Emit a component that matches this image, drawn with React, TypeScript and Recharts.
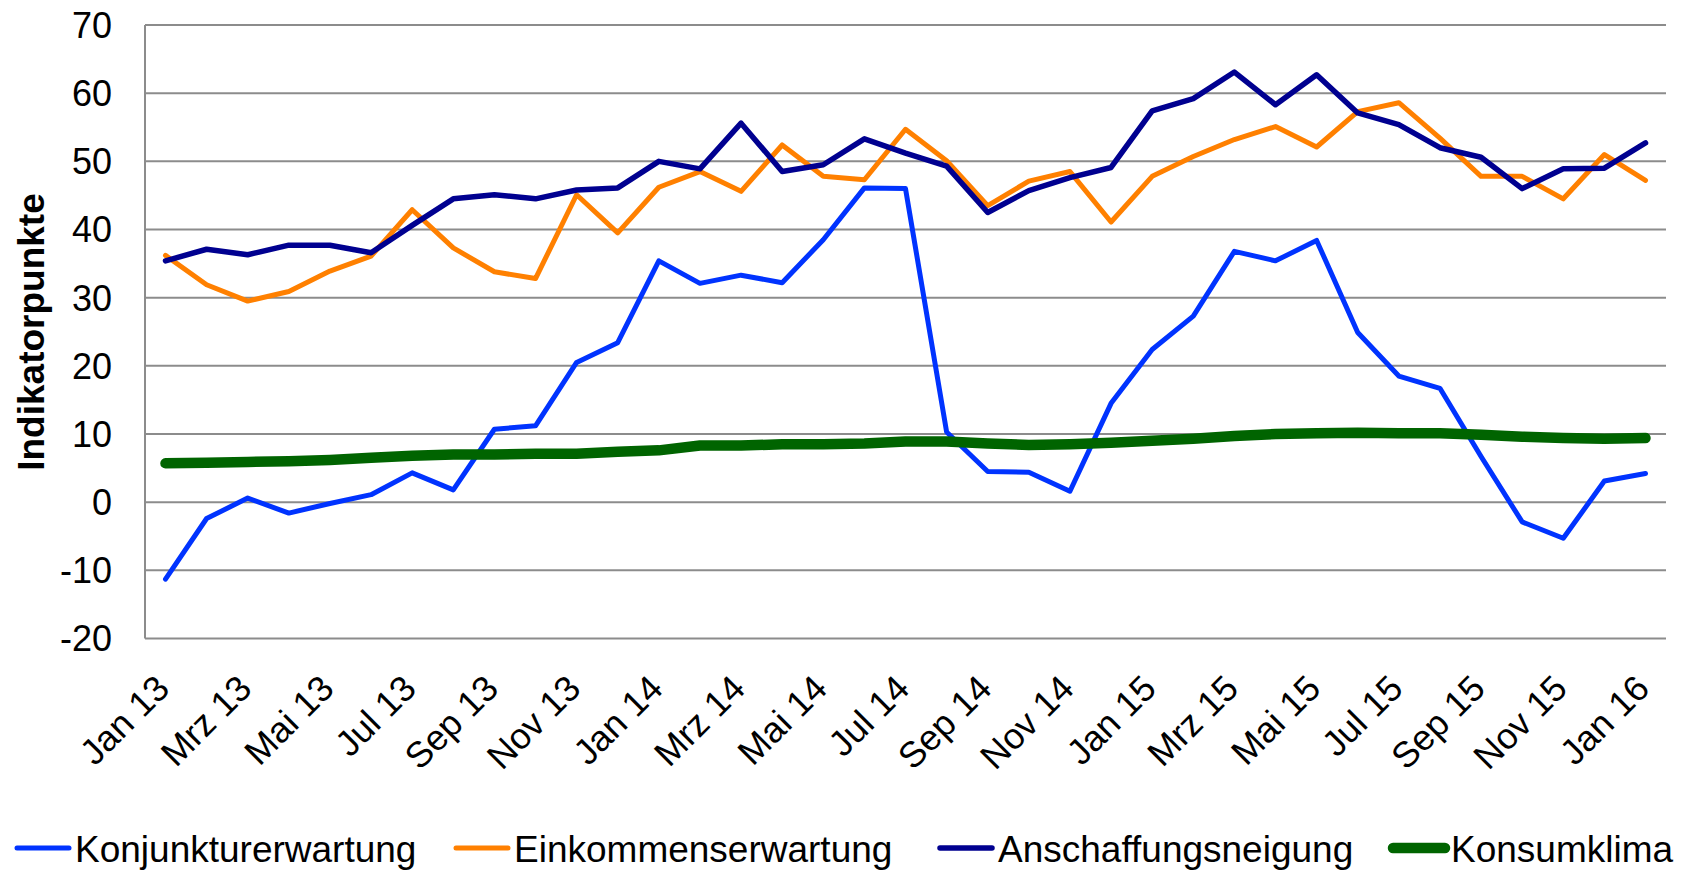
import React from "react";
import { LineChart, Line, XAxis, YAxis, CartesianGrid } from "recharts";

const months = [
  "Jan 13", "Feb 13", "Mrz 13", "Apr 13", "Mai 13", "Jun 13", "Jul 13", "Aug 13", "Sep 13", "Okt 13", "Nov 13", "Dez 13",
  "Jan 14", "Feb 14", "Mrz 14", "Apr 14", "Mai 14", "Jun 14", "Jul 14", "Aug 14", "Sep 14", "Okt 14", "Nov 14", "Dez 14",
  "Jan 15", "Feb 15", "Mrz 15", "Apr 15", "Mai 15", "Jun 15", "Jul 15", "Aug 15", "Sep 15", "Okt 15", "Nov 15", "Dez 15",
  "Jan 16",
];

const konjunktur = [
  -11.3, -2.4, 0.6, -1.6, -0.2, 1.1, 4.3, 1.8, 10.7, 11.2, 20.5, 23.4,
  35.4, 32.1, 33.3, 32.2, 38.5, 46.1, 46.0, 10.3, 4.5, 4.4, 1.6, 14.5,
  22.4, 27.3, 36.8, 35.4, 38.4, 24.9, 18.5, 16.7, 6.7, -2.9, -5.3, 3.1,
  4.2,
];

const einkommen = [
  36.2, 31.9, 29.5, 30.9, 33.9, 36.1, 42.9, 37.3, 33.8, 32.8, 45.1, 39.5,
  46.2, 48.5, 45.6, 52.4, 47.8, 47.3, 54.7, 50.1, 43.5, 47.1, 48.5, 41.1,
  47.8, 50.7, 53.2, 55.1, 52.1, 57.3, 58.6, 53.4, 47.8, 47.8, 44.5, 51.0,
  47.2,
];

const anschaffung = [
  35.4, 37.1, 36.3, 37.7, 37.7, 36.6, 40.6, 44.5, 45.1, 44.5, 45.8, 46.1,
  50.0, 48.9, 55.6, 48.5, 49.5, 53.3, 51.2, 49.3, 42.5, 45.7, 47.6, 49.1,
  57.4, 59.2, 63.1, 58.3, 62.7, 57.1, 55.4, 52.0, 50.6, 46.0, 48.9, 49.0,
  52.7,
];

const konsumklima = [
  5.7, 5.8, 5.9, 6.0, 6.2, 6.5, 6.8, 7.0, 7.0, 7.1, 7.1, 7.4,
  7.6, 8.3, 8.3, 8.5, 8.5, 8.6, 8.9, 8.9, 8.6, 8.4, 8.5, 8.7,
  9.0, 9.3, 9.7, 10.0, 10.1, 10.2, 10.1, 10.1, 9.9, 9.6, 9.4, 9.3,
  9.4,
];

const yTicks = [-20, -10, 0, 10, 20, 30, 40, 50, 60, 70];

const series = [
  { key: "konjunktur", name: "Konjunkturerwartung", color: "#0033ff", width: 5 },
  { key: "einkommen", name: "Einkommenserwartung", color: "#ff8000", width: 5 },
  { key: "anschaffung", name: "Anschaffungsneigung", color: "#000090", width: 5.5 },
  { key: "konsumklima", name: "Konsumklima", color: "#006400", width: 10.5 },
];

const data = months.map((m, i) => ({
  month: m,
  konjunktur: konjunktur[i],
  einkommen: einkommen[i],
  anschaffung: anschaffung[i],
  konsumklima: konsumklima[i],
}));

const FONT = "'Liberation Sans', Arial, sans-serif";
const GRID = "#8c8c8c";

function YTick({ x, y, payload }: any) {
  return (
    <text x={x - 33} y={y} dy="0.36em" textAnchor="end" fontSize={36} fontFamily={FONT} fill="#000">
      {payload.value}
    </text>
  );
}

function XTick({ x, y, payload }: any) {
  const tx = x + 6;
  const ty = y + 52;
  return (
    <text
      x={tx}
      y={ty}
      transform={`rotate(-45, ${tx}, ${ty})`}
      textAnchor="end"
      fontSize={36}
      fontFamily={FONT}
      fill="#000"
    >
      {payload.value}
    </text>
  );
}

// legend item left edges
const legendX = [13, 452, 936, 1389];

function LegendRow() {
  return (
    <svg width={1686} height={50} style={{ position: "absolute", left: 0, top: 822 }}>
      {series.map((s, i) => (
        <g key={s.key}>
          <line
            x1={legendX[i] + 4}
            x2={legendX[i] + 56}
            y1={26}
            y2={26}
            stroke={s.color}
            strokeWidth={s.width}
            strokeLinecap="round"
          />
          <text x={legendX[i] + 62} y={40} fontSize={37} fontFamily={FONT} fill="#000">
            {s.name}
          </text>
        </g>
      ))}
    </svg>
  );
}

export default function App() {
  return (
    <div style={{ position: "absolute", left: 0, top: 0, width: 1686, height: 872, background: "#fff" }}>
      <LineChart width={1686} height={872} data={data} margin={{ top: 25, right: 20, bottom: 0, left: 0 }}>
        <CartesianGrid vertical={false} stroke={GRID} strokeWidth={2} />
        <XAxis
          dataKey="month"
          interval={1}
          axisLine={false}
          tickLine={false}
          tickSize={0}
          tickMargin={0}
          height={233.5}
          padding={{ left: 20.5, right: 20.5 }}
          tick={<XTick />}
        />
        <YAxis
          domain={[-20, 70]}
          ticks={yTicks}
          width={145}
          axisLine={{ stroke: GRID, strokeWidth: 2 }}
          tickLine={false}
          tickSize={0}
          tickMargin={0}
          tick={<YTick />}
          label={{
            content: () => (
              <text
                x={44}
                y={332}
                transform="rotate(-90, 44, 332)"
                textAnchor="middle"
                fontSize={37}
                fontWeight="bold"
                fontFamily={FONT}
                fill="#000"
              >
                Indikatorpunkte
              </text>
            ),
          }}
        />
        {series.map((s) => (
          <Line
            key={s.key}
            type="linear"
            dataKey={s.key}
            name={s.name}
            stroke={s.color}
            strokeWidth={s.width}
            strokeLinejoin="round"
            strokeLinecap="round"
            dot={false}
            activeDot={false}
            isAnimationActive={false}
          />
        ))}
      </LineChart>
      <LegendRow />
    </div>
  );
}
